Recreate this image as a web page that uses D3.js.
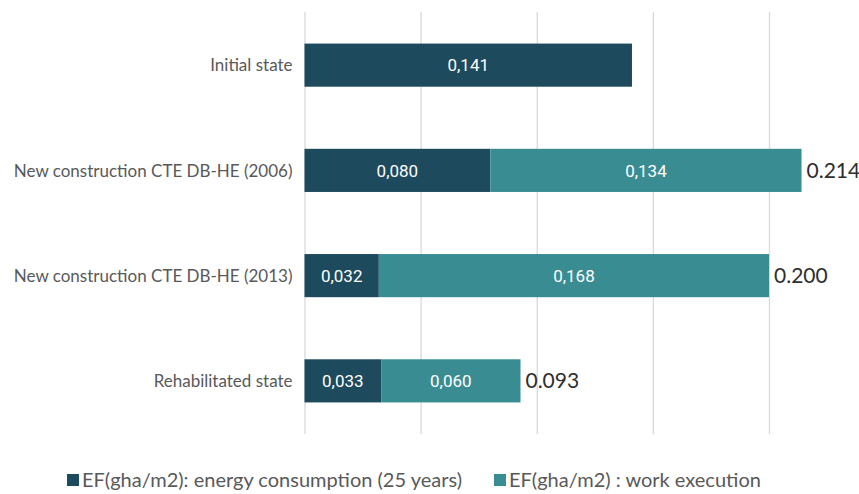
<!DOCTYPE html>
<html>
<head>
<meta charset="utf-8">
<script src="https://cdn.jsdelivr.net/npm/d3@7"></script>
<style>
  html, body { margin: 0; padding: 0; background: #fff; }
  svg { display: block; }
</style>
</head>
<body>
<svg id="chart" width="859" height="494"></svg>
<script>
// Ecological footprint per building state (gha/m2)
const categories = [
  "Initial state",
  "New construction CTE DB-HE (2006)",
  "New construction CTE DB-HE (2013)",
  "Rehabilitated state"
];
const energyConsumption = [0.141, 0.080, 0.032, 0.033];
const workExecution = [0, 0.134, 0.168, 0.060];
const seriesNames = [
  "EF(gha/m2): energy consumption (25 years)",
  "EF(gha/m2) : work execution"
];
const seriesColors = ["#1d4a5d", "#3a8c93"];
const gridTicks = [0, 0.05, 0.1, 0.15, 0.2];

const svg = d3.select("#chart");
const plot = { left: 304.5, right: 769, top: 12, bottom: 434 };

const x = d3.scaleLinear().domain([0, 0.2]).range([plot.left, plot.right]);
const y = d3.scaleBand()
  .domain(categories)
  .range([plot.top, plot.bottom])
  .paddingInner(0.59)
  .paddingOuter(0.3);

// Vertical gridlines
const grid = svg.append("g")
  .attr("transform", `translate(0,${plot.bottom})`)
  .call(d3.axisBottom(x).tickValues(gridTicks)
    .tickSize(-(plot.bottom - plot.top)).tickFormat(""));
grid.select(".domain").remove();
grid.selectAll(".tick line").attr("stroke", "#d9d9d9").attr("stroke-width", 1.3);

// Stack the two series
const rows = categories.map((c, i) => ({
  category: c, energy: energyConsumption[i], work: workExecution[i]
}));
const stacked = d3.stack().keys(["energy", "work"])(rows);

const comma = v => d3.format(".3f")(v).replace(".", ",");

stacked.forEach((layer, li) => {
  const g = svg.append("g");
  layer.forEach(d => {
    const v = d[1] - d[0];
    if (v <= 0) return;
    const x0 = x(d[0]), x1 = x(d[1]);
    const yy = y(d.data.category);
    g.append("rect")
      .attr("x", x0).attr("y", yy)
      .attr("width", x1 - x0).attr("height", y.bandwidth())
      .attr("fill", seriesColors[li]);
    g.append("text")
      .attr("x", (x0 + x1) / 2)
      .attr("y", yy + y.bandwidth() / 2)
      .attr("dy", "0.36em")
      .attr("text-anchor", "middle")
      .attr("fill", "#ffffff")
      .attr("font-family", "Roboto, sans-serif")
      .attr("font-size", 17)
      .text(comma(v));
  });
});

// Totals to the right of stacked bars
rows.forEach(r => {
  if (!(r.work > 0)) return;
  const total = r.energy + r.work;
  svg.append("text")
    .attr("x", x(total) + 5)
    .attr("y", y(r.category) + y.bandwidth() / 2)
    .attr("dy", "0.36em")
    .attr("fill", "#2e2e2e")
    .attr("font-family", "Lato, sans-serif")
    .attr("font-size", 21)
    .text(d3.format(".3f")(total));
});

// Category labels
svg.append("g").selectAll("text")
  .data(categories)
  .join("text")
  .attr("x", 292.5)
  .attr("y", d => y(d) + y.bandwidth() / 2)
  .attr("dy", "0.36em")
  .attr("text-anchor", "end")
  .attr("fill", "#595959")
  .attr("font-family", "Lato, sans-serif")
  .attr("font-size", 17)
  .text(d => d);

// Legend
const legendX = [67, 494];
const legend = svg.append("g");
seriesNames.forEach((name, i) => {
  legend.append("rect")
    .attr("x", legendX[i]).attr("y", 474)
    .attr("width", 12).attr("height", 12)
    .attr("fill", seriesColors[i]);
  legend.append("text")
    .attr("x", legendX[i] + 15)
    .attr("y", 480)
    .attr("dy", "0.36em")
    .attr("fill", "#595959")
    .attr("font-family", "Lato, sans-serif")
    .attr("font-size", 20)
    .text(name);
});
</script>
</body>
</html>
